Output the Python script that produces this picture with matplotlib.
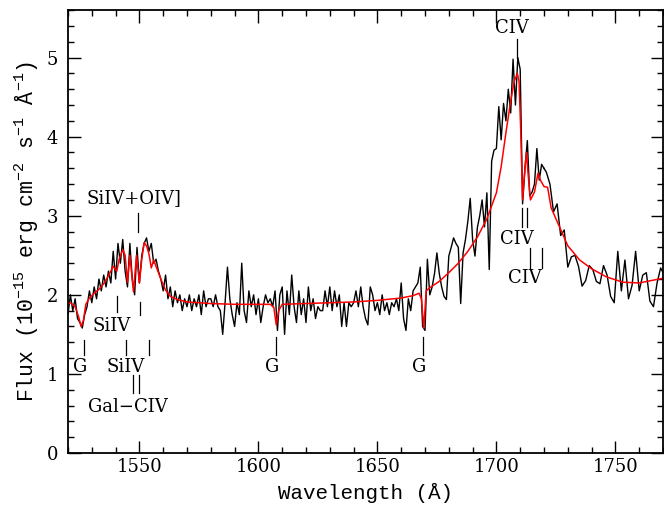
import numpy as np
import matplotlib
matplotlib.use("Agg")
import matplotlib.pyplot as plt
from matplotlib.ticker import MultipleLocator

# ---- observed spectrum (black): 1 A grid 1519-1720, then 1.5 A grid 1721-1770.5 ----
wave_blue = np.arange(1519.0, 1721.0, 1.0)
flux_blue = [
    1.95, 1.75, 2.00, 1.80, 1.95, 1.70, 1.65, 1.58, 1.75, 1.85,
    2.05, 1.90, 2.10, 1.95, 2.20, 2.05, 2.25, 2.10, 2.30, 2.15,
    2.55, 2.20, 2.65, 2.40, 2.70, 2.30, 2.10, 2.65, 2.20, 2.00,
    2.60, 2.15, 2.50, 2.65, 2.72, 2.55, 2.65, 2.40, 2.45, 2.30,
    2.20, 2.05, 2.25, 1.95, 2.10, 1.85, 2.05, 1.90, 2.00, 1.80,
    1.95, 1.85, 2.00, 1.80, 1.95, 1.85, 2.00, 1.75, 2.05, 1.85,
    1.95,                                                   # 1579
    1.95, 1.85, 2.00, 1.85, 1.80, 1.50, 1.90, 2.35, 1.95, 1.75,
    1.60, 1.90, 1.75, 2.40, 1.80, 1.65, 2.05, 1.85, 2.00, 1.75,
    1.95, 1.65, 1.85, 2.00, 1.90, 1.95, 1.85, 2.05, 1.55, 2.00,
    2.10, 1.50, 2.05, 1.75, 2.25, 1.85, 1.65, 2.05, 1.75, 1.95,
    1.65, 2.10, 1.80, 1.95, 1.70, 1.85, 1.80, 1.80, 2.05, 1.85,
    2.10, 1.80, 2.05, 1.85, 2.00, 1.60, 1.90, 1.60, 1.90, 1.85,
    1.90,                                                   # 1640
    2.05, 1.85, 2.10, 1.85, 1.70, 1.62, 2.10, 2.00, 1.80, 1.90,
    1.75, 2.00, 1.80, 1.90, 1.75, 1.90, 1.85, 1.95, 1.80, 2.15,
    1.70, 1.55, 1.95, 1.80, 2.05, 2.10, 2.15, 2.35, 1.60, 1.55,
    2.45, 2.00, 2.10, 2.27, 2.53, 2.27, 2.10, 1.98, 1.94, 2.49,
    2.60, 2.72, 2.65, 2.60, 1.89, 2.53, 2.70, 2.93, 3.22, 2.70,
    2.49, 2.85, 3.00, 3.20, 2.86, 3.29, 2.32, 3.69, 3.83, 3.85,
    4.38, 3.96, 4.42, 4.20, 4.60, 4.30, 4.98, 4.40, 5.00, 4.85,
    3.15, 3.60, 3.95, 3.25, 3.30, 3.40, 3.85, 3.45, 3.65, 3.60,
]
wave_red_side = np.arange(1721.0, 1771.0, 1.5)
flux_red_side = [
    3.55, 3.40, 3.05, 3.15, 2.75, 2.82, 2.35, 2.48, 2.50, 2.36,
    2.11, 2.18, 2.37, 2.32, 2.17, 2.14, 2.37, 2.25, 1.98, 1.90,
    2.55, 2.05, 2.44, 1.95, 2.12, 2.55, 2.05, 2.25, 2.28, 1.92,
    1.85, 2.15, 2.34, 2.25,
]

# ---- model fit (red) ----
model_wave = [1519, 1521, 1523, 1524.5, 1525.5, 1526.5, 1527.5, 1529, 1531, 1533,
              1535, 1537, 1539, 1540.5, 1541.5, 1543, 1544, 1545, 1546, 1547.5,
              1548.8, 1550, 1551, 1552, 1553, 1554, 1555, 1556, 1557, 1559,
              1561, 1563, 1566, 1570, 1575, 1580, 1590, 1600, 1605, 1606.5,
              1607.5, 1608.5, 1610, 1620, 1630, 1640, 1650, 1660, 1665, 1667.5,
              1668.5, 1669.5, 1670.5, 1672, 1676, 1680, 1684, 1688, 1692, 1696,
              1700, 1702, 1704, 1706, 1707.5, 1708.8, 1709.5, 1710.2, 1711, 1712,
              1712.6, 1713.4, 1714.3, 1716, 1717.5, 1718.5, 1720, 1721.5, 1723, 1726.5,
              1730, 1735, 1740, 1746, 1753, 1760, 1770]
model_flux = [1.88, 1.90, 1.85, 1.72, 1.60, 1.68, 1.88, 1.96, 2.02, 2.07,
              2.14, 2.24, 2.36, 2.30, 2.45, 2.57, 2.50, 2.16, 2.50, 2.04,
              2.50, 2.15, 2.45, 2.66, 2.62, 2.52, 2.34, 2.44, 2.36, 2.20,
              2.06, 1.98, 1.94, 1.91, 1.90, 1.89, 1.88, 1.88, 1.88, 1.84,
              1.62, 1.80, 1.88, 1.89, 1.90, 1.91, 1.93, 1.96, 1.99, 2.02,
              1.95, 1.58, 2.05, 2.09, 2.17, 2.28, 2.40, 2.55, 2.73, 2.96,
              3.29, 3.62, 4.05, 4.45, 4.70, 4.80, 4.70, 4.10, 3.20, 3.60,
              3.80, 3.50, 3.20, 3.30, 3.54, 3.45, 3.37, 3.36, 3.10, 2.86,
              2.62, 2.44, 2.33, 2.23, 2.16, 2.15, 2.21]

# ---- line identifications: tick wavelengths, tick y-range, label, label position ----
line_ids = [
    # (tick wavelengths, y0, y1, label, label x, label y)
    ([1549.3], 2.80, 3.04, "SiIV+OIV]", 1547.8, 3.22),
    ([1540.8], 1.78, 1.99, None, 0, 0),
    ([1550.3], 1.75, 1.91, "SiIV", 1538.5, 1.60),
    ([1526.8, 1544.4, 1554.2], 1.24, 1.43, None, 0, 0),
    ([], 0, 0, "G", 1525.0, 1.09),
    ([], 0, 0, "SiIV", 1544.3, 1.09),
    ([1547.5, 1550.0], 0.76, 0.99, "Gal\u2212CIV", 1545.0, 0.58),
    ([1607.6], 1.24, 1.47, "G", 1605.6, 1.09),
    ([1669.3], 1.24, 1.47, "G", 1667.6, 1.09),
    ([1708.8], 5.00, 5.23, "CIV", 1706.3, 5.38),
    ([1710.8, 1712.7], 2.86, 3.10, "CIV", 1708.8, 2.70),
    ([1714.2, 1719.2], 2.34, 2.59, "CIV", 1711.8, 2.21),
]

plt.rcParams.update({
    "font.family": "DejaVu Serif",
    "mathtext.fontset": "custom",
    "mathtext.rm": "Liberation Mono",
    "mathtext.it": "Liberation Mono",
    "mathtext.bf": "Liberation Mono",
    "font.size": 12,
})

fig = plt.figure(figsize=(6.64, 5.08), dpi=100)
ax = fig.add_axes([0.1024, 0.1083, 0.8961, 0.8717])

ax.plot(wave_blue, flux_blue, color="black", lw=1.0)
ax.plot(np.concatenate([[wave_blue[-1]], wave_red_side]),
        [flux_blue[-1]] + flux_red_side, color="black", lw=1.0)
ax.plot(model_wave, model_flux, color="red", lw=1.1)

for waves, y0, y1, label, lx, ly in line_ids:
    for w in waves:
        ax.plot([w, w], [y0, y1], color="black", lw=0.9)
    if label:
        ax.text(lx, ly, label, ha="center", va="center", fontsize=13)

ax.set_xlim(1520, 1770)
ax.set_ylim(0, 5.6)
ax.xaxis.set_major_locator(MultipleLocator(50))
ax.xaxis.set_minor_locator(MultipleLocator(10))
ax.yaxis.set_major_locator(MultipleLocator(1))
ax.yaxis.set_minor_locator(MultipleLocator(0.2))
ax.tick_params(which="both", direction="in", top=True, right=True, labelsize=13, width=1)
ax.tick_params(which="major", length=9)
ax.tick_params(which="minor", length=4.5)
ax.tick_params(axis="y", which="major", pad=7)
for s in ax.spines.values():
    s.set_linewidth(1.3)

mono = "Liberation Mono"
ax.set_xlabel("Wavelength (\u00c5)", family=mono, fontsize=15, labelpad=5)
ax.set_ylabel("Flux (10$^{-15}$ erg cm$^{-2}$ s$^{-1}$ \u00c5$^{-1}$)",
              family=mono, fontsize=15.5, labelpad=5)

fig.savefig("out.png", dpi=100)
